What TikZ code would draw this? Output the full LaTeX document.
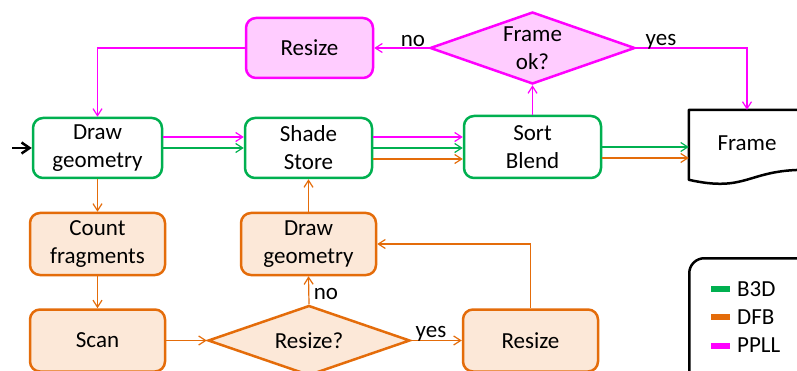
\documentclass[tikz,border=0pt]{standalone}
\usepackage{fontspec}
\setmainfont{Carlito}
\usetikzlibrary{arrows.meta,shapes.geometric,calc}
\definecolor{gline}{RGB}{0,176,80}
\definecolor{oline}{RGB}{228,108,10}
\definecolor{ofill}{RGB}{252,232,216}
\definecolor{pline}{RGB}{255,0,255}
\definecolor{pfill}{RGB}{255,204,255}
\begin{document}
\begin{tikzpicture}[x=1pt,y=-1pt,
  txt/.style={font=\fontsize{23}{28}\selectfont, align=center, text=black},
  lbl/.style={txt, inner sep=0pt},
  basebox/.style={txt, rounded corners=10pt, line width=2.5pt, minimum height=60pt, inner sep=0pt},
  gbox/.style={basebox, draw=gline, fill=white},
  pbox/.style={basebox, draw=pline, fill=pfill},
  obox/.style={basebox, draw=oline, fill=ofill, minimum width=135pt, minimum height=62pt},
  pdia/.style={diamond, draw=pline, fill=pfill, line width=2.5pt, inner sep=0pt},
  odia/.style={diamond, draw=oline, fill=ofill, line width=2.5pt, inner sep=0pt},
  tip/.style={-{Straight Barb[length=7pt,width=9pt]}},
  garr/.style={tip, draw=gline, line width=1.2pt},
  parr/.style={tip, draw=pline, line width=1.2pt},
  oarr/.style={tip, draw=oline, line width=1.2pt},
  karr/.style={-{Straight Barb[length=8pt,width=11pt]}, draw=black, line width=2.5pt},
]
\clip (0,0) rectangle (797,371);

% top row
\node[pbox, minimum width=127pt] (pr) at (309.5,48) {Resize};
\node[pdia, minimum width=205pt, minimum height=72pt,
      label={[lbl]center:Frame\\ok?}] (fk) at (532.5,48) {};

% main row
\node[gbox, minimum width=129pt] (dg) at (97.5,148) {Draw\\geometry};
\node[gbox, minimum width=127pt] (ss) at (308.5,148) {Shade\\Store};
\node[gbox, minimum width=137pt, minimum height=62pt] (sb) at (532.5,147) {Sort\\Blend};
\node[txt, minimum width=116pt, minimum height=66pt, inner sep=0pt] (fr) at (747,143) {Frame};
\draw[black, line width=2.5pt, line join=round]
  (fr.north west) -- (fr.north east) -- ($(fr.north east)+(0,60)$)
  .. controls ($(fr.north)+(0,60)$) and ($(fr.north)+(0,83)$) .. ($(fr.north west)+(0,70)$)
  -- cycle;

% lower rows
\node[obox] (cf) at (97.5,244) {Count\\fragments};
\node[obox] (dg2) at (308.5,244) {Draw\\geometry};
\node[obox] (sc) at (97.5,340.5) {Scan};
\node[odia, minimum width=202pt, minimum height=70pt,
      label={[lbl]center:Resize?}] (rq) at (309,340.5) {};
\node[obox] (ro) at (530.5,340.5) {Resize};

% legend
\node[draw=black, line width=2.5pt, rounded corners=15pt, minimum width=140pt,
      minimum height=140pt, anchor=north west] (leg) at (688,257) {};
\node[fill=gline, minimum width=19pt, minimum height=6pt, inner sep=0pt] (k1) at (720.5,289) {};
\node[fill=oline, minimum width=19pt, minimum height=6pt, inner sep=0pt] (k2) at (720.5,317) {};
\node[fill=pline, minimum width=19pt, minimum height=6pt, inner sep=0pt] (k3) at (720.5,345.5) {};
\node[lbl, anchor=west] (t1) at (737,289) {B3D};
\node[lbl, anchor=west] (t2) at (737,317) {DFB};
\node[lbl, anchor=west] (t3) at (737,345.5) {PPLL};

% entry arrow
\coordinate (in) at (12,148);
\draw[karr] (in) -- (dg.west);

% PPLL connectors
\draw[parr] (pr.west) -| (dg.north);
\draw[parr] (fk.west) -- (pr.east);
\draw[parr] (fk.east) -| (fr.north);
\draw[parr] (sb.north) -- (fk.south);
\draw[parr] (dg.east |- 0,137) -- (ss.west |- 0,137);
\draw[parr] (ss.east |- 0,137) -- (sb.west |- 0,137);
\node[lbl, anchor=base] (lno) at (413,47) {no};
\node[lbl, anchor=base] (lyes) at (661,46) {yes};

% B3D connectors
\draw[garr] (dg.east |- 0,148) -- (ss.west |- 0,148);
\draw[garr] (ss.east |- 0,148) -- (sb.west |- 0,148);
\draw[garr] (sb.east |- 0,147) -- (fr.west |- 0,147);

% DFB connectors
\draw[oarr] (ss.east |- 0,159) -- (sb.west |- 0,159);
\draw[oarr] (sb.east |- 0,158) -- (fr.west |- 0,158);
\draw[oarr] (dg.south) -- (cf.north);
\draw[oarr] (cf.south) -- (sc.north);
\draw[oarr] (sc.east) -- (rq.west);
\draw[oarr] (rq.east) -- (ro.west);
\draw[oarr] (rq.north) -- (dg2.south);
\draw[oarr] (ro.north) |- (dg2.east);
\draw[oarr] (dg2.north) -- (ss.south);
\node[lbl, anchor=base] (lno2) at (326,299) {no};
\node[lbl, anchor=base] (lyes2) at (431,337) {yes};
\end{tikzpicture}
\end{document}
